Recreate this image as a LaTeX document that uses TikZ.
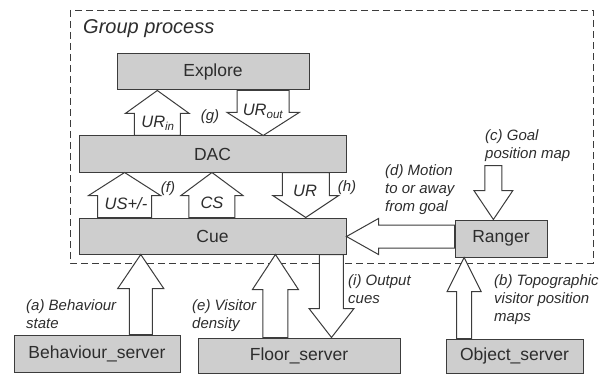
\documentclass[tikz,border=0pt]{standalone}
\usepackage{fontspec}
\setmainfont{Liberation Sans}
\usetikzlibrary{calc}
\definecolor{boxfill}{RGB}{206,206,206}
\definecolor{linec}{RGB}{60,60,60}
\definecolor{textc}{RGB}{45,45,45}
\newcommand{\fatarr}[5]{%
  \coordinate (faH) at ($(#2)!#5!(#1)$);
  \draw[fatarrow] ($(#1)!#3!90:(#2)$) -- ($(faH)!#3!90:(#2)$) -- ($(faH)!#4!90:(#2)$) -- (#2)
     -- ($(faH)!#4!-90:(#2)$) -- ($(faH)!#3!-90:(#2)$) -- ($(#1)!#3!-90:(#2)$) -- cycle;}
\begin{document}
\begin{tikzpicture}[x=1pt,y=-1pt,
  blk/.style={draw=linec, fill=boxfill, line width=1pt, minimum height=36pt, inner sep=0pt,
    font=\fontsize{17.5}{20}\selectfont, text=textc},
  fatarrow/.style={draw=linec, fill=white, line width=1pt, line join=miter},
  lab/.style={font=\fontsize{15}{18}\selectfont\itshape, align=left, anchor=west, text=textc, inner sep=0pt},
  arrlab/.style={font=\fontsize{16.5}{18}\selectfont\itshape, text=textc, inner sep=0pt, anchor=base},
  tag/.style={font=\fontsize{15}{18}\selectfont\itshape, text=textc, inner sep=0pt}]
\useasboundingbox (0,0) rectangle (604,374);
% group frame
\draw[linec, line width=0.9pt, dash pattern=on 7pt off 4pt] (70,10) rectangle (593,263);
\node[anchor=west, font=\fontsize{20}{24}\selectfont\itshape, text=textc, inner sep=0pt] (grp) at (83,29) {Group process};
% boxes
\node[blk, minimum width=192pt] (explore) at (213,72) {Explore};
\node[blk, minimum width=267pt] (dac) at (212.5,154) {DAC};
\node[blk, minimum width=267pt] (cue) at (212.5,236) {Cue};
\node[blk, minimum width=92pt, minimum height=37pt] (ranger) at (501,238.5) {Ranger};
\node[blk, minimum width=166pt, minimum height=37pt] (beh) at (97,353.5) {Behaviour\_server};
\node[blk, minimum width=202pt, minimum height=35pt] (floor) at (299,355.5) {Floor\_server};
\node[blk, minimum width=137pt, minimum height=34pt] (obj) at (514.5,356) {Object\_server};
% arrow anchor points
\coordinate (p1) at ($(dac.north west)!0.294!(dac.north east)$);
\coordinate (q1) at (p1 |- explore.south);
\coordinate (p2) at ($(explore.south west)!0.760!(explore.south east)$);
\coordinate (q2) at (p2 |- dac.north);
\coordinate (p3) at ($(cue.north west)!0.172!(cue.north east)$);
\coordinate (q3) at (p3 |- dac.south);
\coordinate (p4) at ($(cue.north west)!0.498!(cue.north east)$);
\coordinate (q4) at (p4 |- dac.south);
\coordinate (p5) at ($(dac.south west)!0.848!(dac.south east)$);
\coordinate (q5) at (p5 |- cue.north);
\coordinate (q6) at ($(ranger.north west)!0.418!(ranger.north east)$);
\coordinate (goal) at ($(q6)+(0,-54)$);
\coordinate (p7) at ($(ranger.west)+(0,-2)$);
\coordinate (q7) at (p7 -| cue.east);
\coordinate (p8) at ($(beh.north west)!0.762!(beh.north east)$);
\coordinate (q8) at (p8 |- cue.south);
\coordinate (p9) at ($(floor.north west)!0.384!(floor.north east)$);
\coordinate (q9) at (p9 |- cue.south);
\coordinate (p10) at ($(cue.south west)!0.944!(cue.south east)$);
\coordinate (q10) at (p10 |- floor.north);
\coordinate (p11) at ($(obj.north west)!0.135!(obj.north east)$);
\coordinate (q11) at (p11 |- ranger.south);
% fat arrows
\fatarr{p1}{q1}{23pt}{32pt}{23pt}
\fatarr{p2}{q2}{26pt}{36pt}{23pt}
\fatarr{p3}{q3}{27pt}{36pt}{23pt}
\fatarr{p4}{q4}{23pt}{31pt}{23pt}
\fatarr{p5}{q5}{23.5pt}{33pt}{22pt}
\fatarr{goal}{q6}{8.5pt}{19.5pt}{29pt}
\fatarr{p7}{q7}{11.5pt}{18pt}{32pt}
\fatarr{p8}{q8}{11.5pt}{23pt}{34pt}
\fatarr{p9}{q9}{12.5pt}{23pt}{35pt}
\fatarr{p10}{q10}{12pt}{22.5pt}{29pt}
\fatarr{p11}{q11}{7.5pt}{17pt}{34pt}
% arrow labels
\node[arrlab] (lurin) at (158,128) {UR\textsubscript{in}};
\node[arrlab] (lurout) at (263,116) {UR\textsubscript{out}};
\node[arrlab] (lus) at (126,209) {US+/-};
\node[arrlab] (lcs) at (212,208) {CS};
\node[arrlab] (lur) at (305,196) {UR};
\node[tag] (tg) at (210,117) {(g)};
\node[tag] (tf) at (168,189) {(f)};
\node[tag] (th) at (347,188) {(h)};
% side labels
\node[lab] (la) at (26,314) {(a) Behaviour\\state};
\node[lab] (le) at (192,315.5) {(e) Visitor\\density};
\node[lab] (li) at (348,289) {(i) Output\\cues};
\node[lab] (lb) at (494,300) {(b) Topographic\\visitor position\\maps};
\node[lab] (ld) at (385,189.5) {(d) Motion\\to or away\\from goal};
\node[lab] (lc) at (485,145.5) {(c) Goal\\position map};
\end{tikzpicture}
\end{document}
